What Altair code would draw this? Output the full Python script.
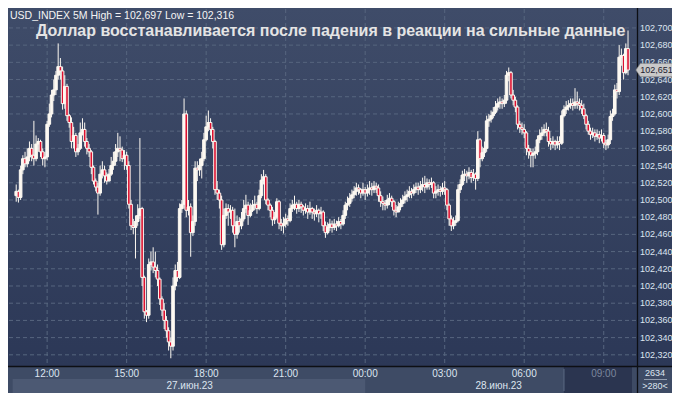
import altair as alt
import pandas as pd
import numpy as np

# ---------------- data (prices in thousandths above 102.000) ----------------
BASE = 102.0
first_open_pts = 505
close_pts = [
    510, 503, 535, 548, 542, 550, 560, 552, 548, 565,
    568, 556, 548, 550, 588, 600, 622, 628, 645, 655,
    650, 612, 632, 598, 590, 568, 575, 556, 560, 578,
    582, 568, 560, 556, 538, 522, 515, 508, 530, 535,
    528, 522, 530, 540, 545, 556, 560, 558, 548, 552,
    540, 495, 470, 468, 475, 482, 490, 410, 370, 366,
    425, 428, 422, 418, 408, 385, 372, 360, 348, 335,
    330, 400, 418, 410, 490, 495, 600, 488, 492, 462,
    475, 537, 535, 540, 548, 570, 585, 590, 582, 568,
    512, 508, 500, 448, 482, 490, 486, 488, 470, 460,
    475, 470, 478, 490, 494, 482, 488, 494, 495, 490,
    505, 523, 527, 500, 494, 488, 477, 480, 498, 473,
    470, 472, 478, 476, 490, 494, 495, 490, 495, 492,
    488, 490, 486, 490, 486, 484, 488, 484, 486, 470,
    462, 468, 472, 468, 472, 470, 475, 472, 482, 494,
    496, 502, 506, 510, 514, 512, 508, 512, 508, 512,
    514, 512, 516, 514, 505, 498, 496, 494, 500, 502,
    498, 488, 486, 492, 496, 500, 504, 506, 510, 508,
    512, 515, 512, 516, 518, 515, 520, 518, 520, 508,
    510, 512, 510, 514, 512, 494, 478, 470, 474, 476,
    512, 518, 529, 530, 528, 532, 526, 530, 525, 570,
    548, 555, 560, 592, 594, 598, 602, 608, 612, 614,
    612, 616, 645, 648, 622, 616, 608, 588, 584, 582,
    578, 560, 556, 552, 554, 556, 570, 575, 578, 582,
    580, 568, 565, 568, 564, 568, 566, 598, 605, 608,
    610, 612, 610, 614, 612, 610, 606, 598, 588, 580,
    576, 578, 574, 576, 572, 575, 566, 564, 570, 597,
    600, 628, 626, 666, 668, 648, 676, 651,
]
high_pts = [
    518, 512, 540, 552, 556, 560, 568, 565, 592, 575,
    572, 570, 560, 556, 592, 612, 628, 640, 650, 682,
    665, 655, 645, 635, 600, 596, 585, 578, 565, 590,
    595, 590, 572, 565, 558, 540, 525, 520, 540, 545,
    540, 532, 536, 550, 556, 565, 578, 574, 562, 558,
    556, 545, 500, 478, 482, 495, 572, 492, 412, 372,
    432, 440, 445, 440, 425, 410, 388, 380, 365, 352,
    340, 410, 425, 428, 496, 500, 618, 604, 500, 496,
    482, 545, 545, 548, 556, 578, 598, 604, 595, 585,
    570, 522, 512, 505, 490, 496, 495, 494, 492, 490,
    482, 480, 486, 500, 506, 498, 496, 500, 505, 498,
    512, 530, 535, 530, 502, 496, 492, 486, 502, 500,
    478, 480, 484, 482, 496, 500, 505, 498, 500, 498,
    494, 496, 494, 498, 492, 490, 494, 490, 492, 488,
    475, 474, 478, 476, 478, 476, 480, 478, 488, 498,
    504, 508, 512, 516, 520, 518, 514, 520, 515, 518,
    522, 520, 522, 520, 518, 510, 504, 500, 506, 508,
    505, 500, 494, 498, 502, 506, 510, 512, 516, 514,
    518, 520, 520, 522, 526, 528, 525, 524, 526, 522,
    516, 518, 516, 520, 522, 514, 496, 482, 480, 482,
    518, 524, 534, 536, 534, 538, 535, 536, 532, 580,
    572, 562, 568, 598, 600, 604, 608, 615, 618, 620,
    618, 622, 650, 654, 650, 628, 620, 610, 592, 590,
    588, 580, 564, 560, 560, 562, 575, 582, 585, 588,
    590, 585, 572, 574, 570, 574, 574, 604, 610, 615,
    616, 618, 618, 630, 626, 618, 616, 612, 600, 592,
    584, 584, 582, 582, 580, 582, 578, 570, 576, 604,
    606, 634, 636, 680, 676, 670, 682, 697,
]
low_pts = [
    498, 497, 500, 530, 538, 538, 545, 545, 540, 545,
    556, 550, 540, 538, 546, 585, 596, 615, 622, 640,
    640, 605, 606, 592, 584, 560, 560, 550, 552, 558,
    575, 562, 553, 550, 530, 518, 510, 483, 505, 525,
    520, 518, 522, 528, 535, 540, 550, 545, 544, 535,
    535, 490, 465, 460, 432, 470, 478, 400, 362, 358,
    362, 418, 415, 410, 400, 378, 365, 350, 340, 325,
    316, 325, 395, 405, 408, 485, 490, 480, 482, 434,
    458, 470, 522, 528, 525, 545, 568, 580, 575, 560,
    506, 500, 490, 442, 445, 478, 470, 478, 462, 445,
    455, 462, 466, 475, 485, 471, 480, 486, 488, 484,
    488, 502, 518, 495, 488, 480, 470, 472, 478, 466,
    464, 461, 468, 470, 474, 486, 488, 484, 486, 485,
    482, 484, 478, 483, 478, 476, 480, 474, 478, 464,
    456, 460, 464, 462, 465, 464, 468, 466, 470, 478,
    488, 492, 498, 502, 505, 506, 502, 505, 500, 504,
    506, 505, 508, 508, 498, 492, 488, 488, 490, 494,
    492, 482, 480, 486, 488, 492, 496, 498, 502, 502,
    505, 508, 506, 508, 510, 508, 512, 512, 514, 502,
    502, 505, 504, 506, 506, 488, 470, 464, 466, 470,
    474, 508, 516, 522, 520, 524, 520, 522, 512, 522,
    538, 545, 550, 556, 585, 590, 595, 600, 604, 606,
    606, 608, 612, 638, 618, 610, 602, 582, 578, 576,
    572, 552, 548, 538, 538, 548, 552, 566, 570, 574,
    574, 562, 558, 560, 558, 560, 558, 564, 596, 600,
    604, 606, 604, 606, 606, 604, 600, 594, 582, 576,
    570, 572, 568, 570, 566, 568, 560, 558, 560, 565,
    592, 598, 618, 622, 656, 640, 646, 645,
]
first_bar = "2023-06-27 10:50"
bar_step = "5min"

y_ticks = [102.32, 102.34, 102.36, 102.38, 102.40, 102.42, 102.44, 102.46, 102.48, 102.50,
           102.52, 102.54, 102.56, 102.58, 102.60, 102.62, 102.64, 102.66, 102.68, 102.70]
x_ticks = ["2023-06-27 12:00", "2023-06-27 15:00", "2023-06-27 18:00", "2023-06-27 21:00",
           "2023-06-28 00:00", "2023-06-28 03:00", "2023-06-28 06:00", "2023-06-28 09:00"]
date_labels = ["27.июн.23", "28.июн.23"]
date_from = ["2023-06-27 10:45", "2023-06-28 00:00"]
date_to = ["2023-06-28 00:00", "2023-06-28 10:04"]
session_from = "2023-06-28 07:30"
title_text = "Доллар восстанавливается после падения в реакции на сильные данные"
footer_top = "2634"
footer_bottom = ">280<"

# ---------------- tables ----------------
open_pts = [first_open_pts] + close_pts[:-1]
df = pd.DataFrame({
    "t": pd.date_range(first_bar, periods=len(close_pts), freq=bar_step),
    "o": [BASE + v / 1000 for v in open_pts],
    "c": [BASE + v / 1000 for v in close_pts],
    "h": [BASE + v / 1000 for v in high_pts],
    "l": [BASE + v / 1000 for v in low_pts],
})
df["h"] = df[["h", "o", "c"]].max(axis=1)
df["l"] = df[["l", "o", "c"]].min(axis=1)
df["dir"] = np.where(df["c"] >= df["o"], "up", "down")

def fmt(v):
    return f"{v:.3f}".replace(".", ",")

header_text = f"USD_INDEX 5M High = {fmt(df['h'].max())} Low = {fmt(df['l'].min())}"

df_y = pd.DataFrame({"v": y_ticks, "lab": [fmt(v) for v in y_ticks]})
xt = pd.to_datetime(x_ticks)
df_x = pd.DataFrame({"t": xt, "lab": [d.strftime("%H:%M") for d in xt],
                     "dim": [d >= pd.Timestamp(session_from) for d in xt]})
dfrom = pd.to_datetime(date_from)
dto = pd.to_datetime(date_to)
df_d = pd.DataFrame({"a": dfrom, "b": dto, "m": dfrom + (dto - dfrom) / 2, "lab": date_labels})
df_band = pd.DataFrame({"a": [pd.Timestamp(date_from[0]) - pd.Timedelta(minutes=3)],
                        "b": [pd.Timestamp(date_to[0])]})
df_sess = pd.DataFrame({"a": [pd.Timestamp(session_from)], "b": [pd.Timestamp(date_to[1])]})
df_last = pd.DataFrame({"c": [df["c"].iloc[-1]], "lab": [fmt(df["c"].iloc[-1])]})
dummy = pd.DataFrame({"k": [0]})

# ---------------- scales / sizes ----------------
W, H = 628, 357
XS = alt.Scale(domain=[alt.DateTime(year=2023, month=6, date=27, hours=10, minutes=45),
                       alt.DateTime(year=2023, month=6, date=28, hours=10, minutes=4)])
YS = alt.Scale(domain=[102.307, 102.722], zero=False, nice=False)
FONT = "Liberation Sans"
LABEL = "#dde5f0"
CANDLE_W = "#fdf9f2"
CANDLE_R = "#dc1030"
AXFS = 9

grad = alt.Gradient(gradient="linear",
                    stops=[alt.GradientStop(color="#3f4c69", offset=0),
                           alt.GradientStop(color="#2c3857", offset=1)],
                    x1=0, x2=0, y1=0, y2=1)

bg = alt.Chart(dummy).mark_rect(color=grad).encode(
    x=alt.value(-1), x2=alt.value(664), y=alt.value(-1), y2=alt.value(H))

hgrid = alt.Chart(df_y).mark_rule(color="#57667f", strokeDash=[4, 3], strokeWidth=1).encode(
    y=alt.Y("v:Q", scale=YS, axis=None), x=alt.value(0), x2=alt.value(W))
vgrid = alt.Chart(df_x).mark_rule(color="#57667f", strokeDash=[4, 3], strokeWidth=1).encode(
    x=alt.X("t:T", scale=XS, axis=None), y=alt.value(0), y2=alt.value(H))

band = alt.Chart(df_band).mark_rect(color="#4c5973").encode(
    x=alt.X("a:T", scale=XS, axis=None), x2="b:T", y=alt.value(H + 13), y2=alt.value(H + 27))
sess = alt.Chart(df_sess).mark_rect(color="#2b3550").encode(
    x=alt.X("a:T", scale=XS, axis=None), x2="b:T", y=alt.value(H + 1), y2=alt.value(H + 27))
sess_line = alt.Chart(df_sess).mark_rule(color="#5d6a84").encode(
    x=alt.X("a:T", scale=XS, axis=None), y=alt.value(H + 3), y2=alt.value(H + 25))

wicks = alt.Chart(df).mark_rule(color=CANDLE_W, strokeWidth=1).encode(
    x=alt.X("t:T", scale=XS, axis=None),
    y=alt.Y("l:Q", scale=YS, axis=None), y2="h:Q")
bodies = alt.Chart(df).mark_bar(width=2.6, stroke=CANDLE_W, strokeWidth=1).encode(
    x=alt.X("t:T", scale=XS, axis=None),
    y=alt.Y("o:Q", scale=YS, axis=None), y2="c:Q",
    fill=alt.Fill("dir:N", scale=alt.Scale(domain=["up", "down"], range=[CANDLE_W, CANDLE_R]),
                  legend=None))

hline = alt.Chart(dummy).mark_rule(color="#0d0f14", strokeWidth=1.3).encode(
    x=alt.value(-1), x2=alt.value(664), y=alt.value(H + 0.5))
vline = alt.Chart(dummy).mark_rule(color="#0d0f14", strokeWidth=1.3).encode(
    x=alt.value(W + 0.5), y=alt.value(-1), y2=alt.value(H + 27))

ylabels = alt.Chart(df_y).mark_text(align="left", baseline="middle", font=FONT, fontSize=AXFS,
                                    color=LABEL).encode(
    y=alt.Y("v:Q", scale=YS, axis=None), x=alt.value(W + 3), text="lab:N")

tag = alt.Chart(df_last).mark_point(
    shape="M -1.12 0 L -0.86 -0.38 L 0.98 -0.38 L 0.98 0.38 L -0.86 0.38 Z",
    size=1225, filled=True, fill="#c9c9c9", stroke="#8a8a8a", strokeWidth=0.6, opacity=1).encode(
    y=alt.Y("c:Q", scale=YS, axis=None), x=alt.value(W + 18.5))
tag_text = alt.Chart(df_last).mark_text(align="center", baseline="middle", font=FONT, fontSize=AXFS,
                                        color="#1c2230").encode(
    y=alt.Y("c:Q", scale=YS, axis=None), x=alt.value(W + 19.5), text="lab:N")

xlabels = alt.Chart(df_x).mark_text(align="center", baseline="middle", font=FONT, fontSize=10).encode(
    x=alt.X("t:T", scale=XS, axis=None), y=alt.value(H + 8), text="lab:N",
    color=alt.Color("dim:N", scale=alt.Scale(domain=[False, True], range=[LABEL, "#7b879d"]),
                    legend=None))
dlabels = alt.Chart(df_d).mark_text(align="center", baseline="middle", font=FONT, fontSize=10,
                                    color=LABEL).encode(
    x=alt.X("m:T", scale=XS, axis=None), y=alt.value(H + 20), text="lab:N")

header = alt.Chart(dummy).mark_text(align="left", baseline="alphabetic", font=FONT, fontSize=10.5,
                                    color="#f4f4f4").encode(
    x=alt.value(1), y=alt.value(10), text=alt.value(header_text))
title = alt.Chart(dummy).mark_text(align="left", baseline="alphabetic", font=FONT, fontSize=16,
                                   fontWeight="bold", color="#e4e4e4").encode(
    x=alt.value(27), y=alt.value(27), text=alt.value(title_text))

foot1 = alt.Chart(dummy).mark_text(align="center", baseline="middle", font=FONT, fontSize=AXFS,
                                   color=LABEL).encode(
    x=alt.value(W + 18), y=alt.value(H + 7), text=alt.value(footer_top))
foot_line = alt.Chart(dummy).mark_rule(color="#aab4c4", strokeWidth=0.8).encode(
    x=alt.value(W + 7), x2=alt.value(W + 30), y=alt.value(H + 13.5))
foot2 = alt.Chart(dummy).mark_text(align="center", baseline="middle", font=FONT, fontSize=AXFS,
                                   color=LABEL).encode(
    x=alt.value(W + 18), y=alt.value(H + 20), text=alt.value(footer_bottom))

chart = alt.layer(
    bg, hgrid, vgrid, band, sess, sess_line, wicks, bodies, hline, vline,
    ylabels, tag, tag_text, xlabels, dlabels, header, title, foot1, foot_line, foot2
).properties(
    width=W, height=H,
    autosize=alt.AutoSizeParams(type="none"),
    padding={"left": 1, "top": 1, "right": 35, "bottom": 27},
    background="#3e4b65",
).configure_view(stroke=None)

chart.save("out.html", embed_options={"renderer": "svg", "actions": False})
